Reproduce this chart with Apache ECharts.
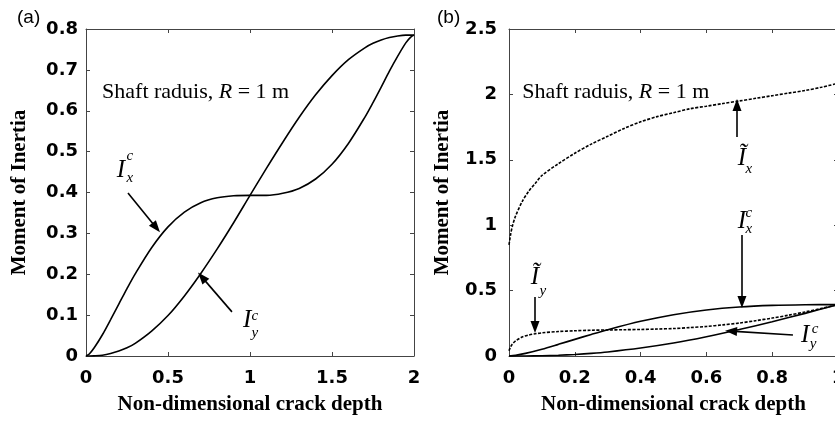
<!DOCTYPE html>
<html><head><meta charset="utf-8">
<script src="https://cdn.jsdelivr.net/npm/echarts@6/dist/echarts.min.js"></script>
<style>html,body{margin:0;padding:0;background:#fff}#c{width:835px;height:423px}</style>
</head><body><div id="c"></div>
<script>
// ---- Panel (a): crack depth 0..2 ----
const depthA = [0,0.02,0.05,0.1,0.15,0.2,0.25,0.3,0.4,0.5,0.6,0.7,0.8,0.9,1.0,1.1,1.2,1.3,1.4,1.5,1.6,1.7,1.75,1.8,1.85,1.9,1.95,1.98,2.0];
const IxcA = [0,0.005,0.020,0.052,0.089,0.127,0.165,0.201,0.265,0.316,0.352,0.375,0.387,0.392,0.393,0.393,0.398,0.410,0.433,0.469,0.520,0.584,0.620,0.658,0.697,0.733,0.766,0.780,0.785];
const IycA = [0,0,0.0004,0.002,0.006,0.012,0.020,0.031,0.061,0.099,0.147,0.202,0.262,0.326,0.393,0.459,0.523,0.584,0.639,0.686,0.725,0.754,0.765,0.773,0.779,0.783,0.785,0.785,0.785];

// ---- Panel (b): crack depth 0..1 ----
const depthB = [0,0.02,0.05,0.1,0.15,0.2,0.25,0.3,0.4,0.5,0.6,0.7,0.8,0.9,1.0];
const IxcB = [0,0.005,0.020,0.052,0.089,0.127,0.165,0.201,0.265,0.316,0.352,0.375,0.387,0.392,0.393];
const IycB = [0,0,0.0004,0.002,0.006,0.012,0.020,0.031,0.061,0.099,0.147,0.202,0.262,0.326,0.393];
const depthT = [0,0.005,0.01,0.02,0.04,0.06,0.08,0.1,0.15,0.2,0.25,0.3,0.35,0.4,0.45,0.5,0.55,0.6,0.65,0.7,0.75,0.8,0.85,0.9,0.95,1.0];
const IxTilde = [0.85,0.93,0.99,1.07,1.18,1.26,1.32,1.38,1.47,1.55,1.62,1.68,1.74,1.79,1.83,1.86,1.89,1.91,1.93,1.95,1.97,1.99,2.01,2.03,2.055,2.085];
const IyTilde = [0.04,0.07,0.09,0.115,0.145,0.16,0.17,0.177,0.187,0.193,0.197,0.199,0.201,0.203,0.206,0.21,0.217,0.226,0.238,0.252,0.27,0.29,0.312,0.337,0.364,0.393];

// axis tick settings
const xTicksA = {min:0, max:2, interval:0.5};
const yTicksA = {min:0, max:0.8, interval:0.1};
const xTicksB = {min:0, max:1, interval:0.2};
const yTicksB = {min:0, max:2.5, interval:0.5};

const xTitle = 'Non-dimensional crack depth';
const yTitle = 'Moment of Inertia';
const noteText = 'Shaft raduis, {i|R} = 1 m';

const zip = (xs, ys) => xs.map((x, i) => [x, ys[i]]);

const lineCol = '#444';
const labelFont = {fontFamily:'DejaVu Sans', fontWeight:'bold', fontSize:18, color:'#000'};
const titleFont = {fontFamily:'Liberation Serif', fontWeight:'bold', fontSize:21, color:'#000'};

function mainX(t, gi, margin){
  return Object.assign({type:'value', gridIndex:gi, position:'bottom',
    axisLine:{show:true, onZero:false, lineStyle:{color:lineCol, width:1}},
    axisTick:{show:true, inside:true, length:4, lineStyle:{color:lineCol}},
    axisLabel:Object.assign({margin:margin, showMaxLabel:true, showMinLabel:true, hideOverlap:false}, labelFont),
    splitLine:{show:false},
    name:xTitle, nameLocation:'middle', nameGap:38, nameTextStyle:titleFont}, t);
}
function sideX(t, gi){
  return Object.assign({type:'value', gridIndex:gi, position:'top',
    axisLine:{show:true, onZero:false, lineStyle:{color:lineCol, width:1}},
    axisTick:{show:true, inside:true, length:4, lineStyle:{color:lineCol}},
    axisLabel:{show:false}, splitLine:{show:false}}, t);
}
function mainY(t, gi, margin, gap){
  return Object.assign({type:'value', gridIndex:gi, position:'left',
    axisLine:{show:true, onZero:false, lineStyle:{color:lineCol, width:1}},
    axisTick:{show:true, inside:true, length:4, lineStyle:{color:lineCol}},
    axisLabel:Object.assign({margin:margin, showMaxLabel:true, showMinLabel:true}, labelFont),
    splitLine:{show:false},
    name:yTitle, nameLocation:'middle', nameGap:gap, nameRotate:90, nameTextStyle:titleFont}, t);
}
function sideY(t, gi){
  return Object.assign({type:'value', gridIndex:gi, position:'right',
    axisLine:{show:true, onZero:false, lineStyle:{color:lineCol, width:1}},
    axisTick:{show:true, inside:true, length:4, lineStyle:{color:lineCol}},
    axisLabel:{show:false}, splitLine:{show:false}}, t);
}

function arrow(from, to){
  return [{coord:from}, {coord:to}];
}
function ml(list){
  return {silent:true, animation:false, symbol:['none','triangle'], symbolSize:[9,12],
    label:{show:false}, emphasis:{disabled:true},
    itemStyle:{color:'#000'},
    lineStyle:{color:'#000', width:1.6, type:'solid'},
    data:list};
}
function curve(name, data, xi, yi, dashed, marks){
  const s = {name, type:'line', xAxisIndex:xi, yAxisIndex:yi, data, smooth:0.3,
    showSymbol:false, symbol:'none', animation:false, silent:true,
    itemStyle:{color:'#000'},
    lineStyle:{color:'#000', width:1.6, type: dashed ? [3,1.5] : 'solid'}};
  if (marks) s.markLine = ml(marks);
  return s;
}

const chart = echarts.init(document.getElementById('c'), null, {renderer:'canvas'});
chart.setOption({
  backgroundColor:'#fff',
  animation:false,
  grid:[
    {left:86, top:29, width:328, height:327, outerBoundsMode:'none', containLabel:false},
    {left:509, top:29, width:329, height:327, outerBoundsMode:'none', containLabel:false}
  ],
  xAxis:[ mainX(xTicksA,0,13), sideX(xTicksA,0), mainX(xTicksB,1,13), sideX(xTicksB,1) ],
  yAxis:[ mainY(yTicksA,0,8,56), sideY(yTicksA,0), mainY(yTicksB,1,12,56), sideY(yTicksB,1) ],
  series:[
    curve('Ixc (a)', zip(depthA, IxcA), 0, 0, false, [arrow([0.256,0.399],[0.428,0.314])]),
    curve('Iyc (a)', zip(depthA, IycA), 0, 0, false, [arrow([0.890,0.108],[0.707,0.193])]),
    curve('Ixc (b)', zip(depthB, IxcB), 2, 2, false, [arrow([0.708,0.925],[0.708,0.413])]),
    curve('Iyc (b)', zip(depthB, IycB), 2, 2, false, [arrow([0.863,0.161],[0.675,0.190])]),
    curve('Ix tilde', zip(depthT, IxTilde), 2, 2, true, [arrow([0.693,1.674],[0.693,1.919])]),
    curve('Iy tilde', zip(depthT, IyTilde), 2, 2, true, [arrow([0.079,0.451],[0.079,0.222])])
  ]
});

// annotation texts, anchored in data coordinates: [axis pair index, x, y, text, size]
const annot = [
  [0, 0.213, 0.455, 'I', 25], [0, 0.268, 0.489, 'c', 15], [0, 0.268, 0.435, 'x', 15],
  [0, 0.982, 0.088, 'I', 25], [0, 1.030, 0.098, 'c', 15], [0, 1.030, 0.056, 'y', 15],
  [1, 0.708, 1.514, '\u0128', 25], [1, 0.729, 1.430, 'x', 15],
  [1, 0.708, 1.032, 'I', 25], [1, 0.729, 1.093, 'c', 15], [1, 0.729, 0.971, 'x', 15],
  [1, 0.079, 0.604, '\u0128', 25], [1, 0.103, 0.497, 'y', 15],
  [1, 0.900, 0.161, 'I', 25], [1, 0.930, 0.206, 'c', 15], [1, 0.924, 0.092, 'y', 15]
];
const notes = [[0, 0.098, 0.645], [1, 0.040, 2.018]];
const axisPair = [{xAxisIndex:0, yAxisIndex:0}, {xAxisIndex:2, yAxisIndex:2}];

const gfx = [];
annot.forEach(a => {
  const p = chart.convertToPixel(axisPair[a[0]], [a[1], a[2]]);
  gfx.push({type:'text', x:p[0], y:p[1], silent:true, style:{text:a[3],
    fontFamily:'Liberation Serif', fontStyle:'italic', fontSize:a[4], fill:'#000',
    align:'center', verticalAlign:'middle', textAlign:'center', textVerticalAlign:'middle'}});
});
notes.forEach(n => {
  const p = chart.convertToPixel(axisPair[n[0]], [n[1], n[2]]);
  gfx.push({type:'text', x:p[0], y:p[1], silent:true, style:{text:noteText,
    fontFamily:'Liberation Serif', fontSize:22, fill:'#000',
    align:'left', verticalAlign:'middle', textAlign:'left', textVerticalAlign:'middle',
    rich:{i:{fontFamily:'Liberation Serif', fontStyle:'italic', fontSize:22, fill:'#000'}}}});
});
gfx.push({type:'text', left:17, top:8, silent:true, style:{text:'(a)', fontFamily:'Liberation Sans', fontSize:19, fill:'#000'}});
gfx.push({type:'text', left:437, top:8, silent:true, style:{text:'(b)', fontFamily:'Liberation Sans', fontSize:19, fill:'#000'}});
chart.setOption({graphic:gfx});
</script>
</body></html>
